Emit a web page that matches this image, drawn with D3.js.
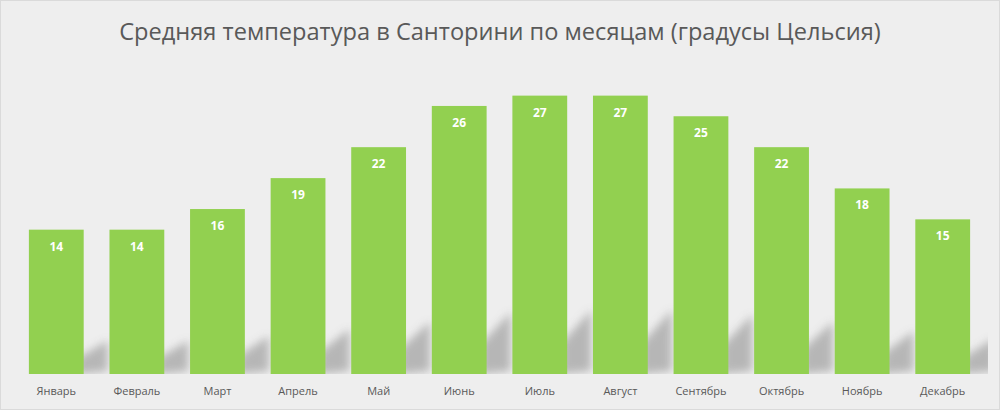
<!DOCTYPE html>
<html>
<head>
<meta charset="utf-8">
<script src="https://cdn.jsdelivr.net/npm/d3@7"></script>
<style>
  body { margin: 0; background: #eeeeee; }
  svg { display: block; }
</style>
</head>
<body>
<svg id="chart"></svg>
<script>
var months = ["Январь", "Февраль", "Март", "Апрель", "Май", "Июнь", "Июль", "Август", "Сентябрь", "Октябрь", "Ноябрь", "Декабрь"];
var temps = [14, 14, 16, 19, 22, 26, 27, 27, 25, 22, 18, 15];
var title = "Средняя температура в Санторини по месяцам (градусы Цельсия)";

var W = 1000, H = 410;
var base = 374;

var svg = d3.select("#chart").attr("width", W).attr("height", H);

svg.append("rect").attr("x", 0.5).attr("y", 0.5)
  .attr("width", W - 1).attr("height", H - 1)
  .attr("fill", "#eeeeee").attr("stroke", "#dadada");

// blur for the shadow under the bars
var defs = svg.append("defs");
defs.append("filter").attr("id", "blur")
  .attr("x", "-50%").attr("y", "-50%").attr("width", "200%").attr("height", "200%")
  .append("feGaussianBlur").attr("stdDeviation", 4);
defs.append("clipPath").attr("id", "plot")
  .append("rect").attr("x", 10).attr("y", 60).attr("width", 978).attr("height", base - 60);

var x = d3.scaleBand().domain(months).range([16, 983])
  .paddingInner(0.32).paddingOuter(0.16);
var y = d3.scaleLinear().domain([0, 30]).range([base, 64.7]);

svg.append("text")
  .attr("x", W / 2).attr("y", 40)
  .attr("text-anchor", "middle")
  .attr("font-family", "Open Sans, sans-serif")
  .attr("font-size", 23.6)
  .attr("fill", "#595959")
  .text(title);

// shadows: band rising to the right of each bar
var bw = x.bandwidth();
var ext = 24;
svg.append("g").attr("clip-path", "url(#plot)")
  .selectAll("path").data(temps).enter().append("path")
  .attr("d", function (d, i) {
    var x0 = x(months[i]) + bw, h = base - y(d);
    var hs = h * 0.23, drop = h * 0.12;
    return "M" + (x0 - 6) + "," + base +
      "L" + (x0 + ext) + "," + (base - 3) +
      "L" + (x0 + ext) + "," + (base - hs) +
      "L" + (x0 - 6) + "," + (base - hs + drop) + "Z";
  })
  .attr("fill", "#adadad")
  .attr("opacity", 0.85)
  .attr("filter", "url(#blur)");

svg.append("g").selectAll("rect").data(temps).enter().append("rect")
  .attr("x", function (d, i) { return x(months[i]); })
  .attr("y", function (d) { return y(d); })
  .attr("width", bw)
  .attr("height", function (d) { return base - y(d); })
  .attr("fill", "#92d050");

svg.append("g").selectAll("text").data(temps).enter().append("text")
  .attr("x", function (d, i) { return x(months[i]) + bw / 2; })
  .attr("y", function (d) { return y(d) + 21; })
  .attr("text-anchor", "middle")
  .attr("font-family", "Open Sans, sans-serif")
  .attr("font-weight", "bold")
  .attr("font-size", 12)
  .attr("fill", "#ffffff")
  .text(function (d) { return d; });

var axis = svg.append("g")
  .attr("transform", "translate(0," + base + ")")
  .call(d3.axisBottom(x).tickSize(0).tickPadding(13));
axis.select(".domain").remove();
axis.selectAll("text")
  .attr("font-family", "Open Sans, sans-serif")
  .attr("font-size", 11)
  .attr("fill", "#595959");
</script>
</body>
</html>
